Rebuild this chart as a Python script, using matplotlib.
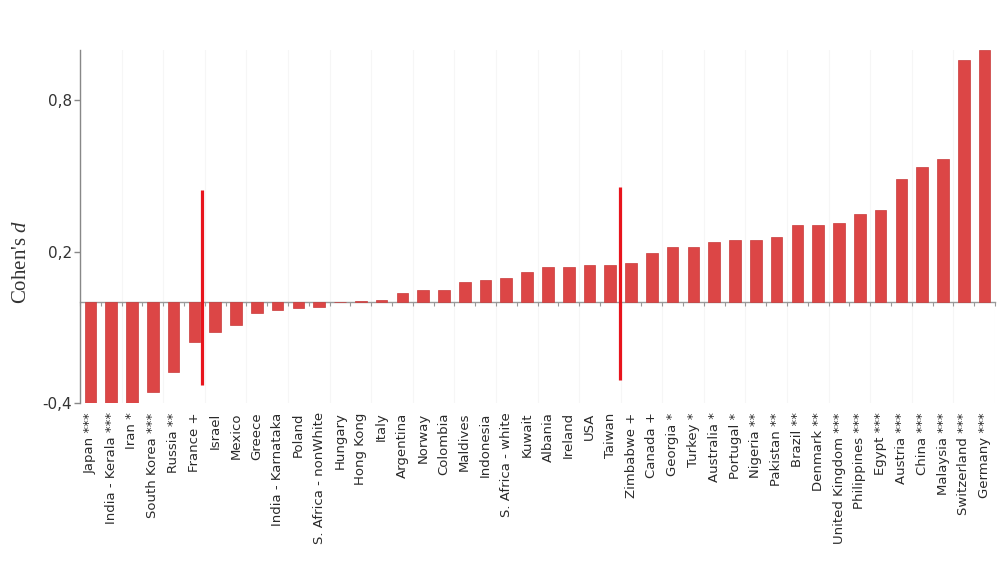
import matplotlib.pyplot as plt
import numpy as np

plt.rcParams['mathtext.fontset'] = 'custom'
plt.rcParams['mathtext.rm'] = 'Liberation Serif'
plt.rcParams['mathtext.it'] = 'Liberation Serif:italic'

countries = ['Japan ***', 'India - Kerala ***', 'Iran *', 'South Korea ***', 'Russia **',
             'France +', 'Israel', 'Mexico', 'Greece', 'India - Karnataka', 'Poland',
             'S. Africa - nonWhite', 'Hungary', 'Hong Kong', 'Italy', 'Argentina', 'Norway',
             'Colombia', 'Maldives', 'Indonesia', 'S. Africa - white', 'Kuwait', 'Albania',
             'Ireland', 'USA', 'Taiwan', 'Zimbabwe +', 'Canada +', 'Georgia *', 'Turkey *',
             'Australia *', 'Portugal *', 'Nigeria **', 'Pakistan **', 'Brazil **',
             'Denmark **', 'United Kingdom ***', 'Philippines ***', 'Egypt ***',
             'Austria ***', 'China ***', 'Malaysia ***', 'Switzerland ***', 'Germany ***']
cohens_d = [-0.40, -0.40, -0.40, -0.36, -0.28,
            -0.16, -0.12, -0.09, -0.043, -0.033, -0.023,
            -0.02, 0.0, 0.005, 0.007, 0.037, 0.047,
            0.047, 0.077, 0.086, 0.095, 0.117, 0.138,
            0.138, 0.148, 0.148, 0.156, 0.196, 0.219, 0.219,
            0.236, 0.245, 0.245, 0.256, 0.306,
            0.306, 0.315, 0.347, 0.366,
            0.487, 0.537, 0.568, 0.96, 1.0]

# red marker lines (position in category units, top, bottom)
marker_pos = [5.35, 25.47]
marker_top = [0.445, 0.457]
marker_bottom = [-0.33, -0.31]

yticks = [-0.4, 0.2, 0.8]
ytick_labels = ['-0,4', '0,2', '0,8']

fig = plt.figure(figsize=(10, 5.63), dpi=100)
ax = fig.add_axes([0.08, 0.285, 0.915, 0.626])

x = np.arange(len(countries))
ax.bar(x, cohens_d, width=0.56, color='#dc4646', edgecolor='#c93a3a', linewidth=0.5, zorder=2)

# faint vertical grid
for b in np.arange(-0.5, len(countries), 2):
    ax.axvline(b, color='#f6f6f6', lw=0.8, zorder=0)

ax.set_xlim(-0.5, len(countries) - 0.5)
ax.set_ylim(-0.4, 1.0)

ax.set_xticks(x)
ax.set_xticklabels(countries, rotation=90, fontsize=9.5, color='#2a2a2a')
ax.tick_params(axis='x', length=0, pad=7)

ax.set_yticks(yticks)
ax.set_yticklabels(ytick_labels, fontsize=11, color='#333333')
ax.tick_params(axis='y', length=4, color='#888888', width=1, pad=2)

for s in ['top', 'right', 'bottom']:
    ax.spines[s].set_visible(False)
ax.spines['left'].set_color('#888888')
ax.spines['left'].set_linewidth(1.0)

# zero axis with boundary ticks
zero_frac = (0 - (-0.4)) / 1.4
sec = ax.secondary_xaxis(zero_frac)
sec.set_xticks(np.arange(-0.5, len(countries), 1))
sec.set_xticklabels([])
sec.tick_params(length=3, color='#999999', width=0.8, direction='out')
sec.spines['bottom'].set_color('#999999')
sec.spines['bottom'].set_linewidth(1.0)

ax.vlines(marker_pos, marker_bottom, marker_top, colors='#e8141c', linewidth=2.3, zorder=3)

fig.text(0.022, 1 - 262 / 563, "Cohen's $d$", rotation=90, va='center', ha='center',
         fontsize=15, family='Liberation Serif', color='#333333')

fig.savefig('out.png', dpi=100)
